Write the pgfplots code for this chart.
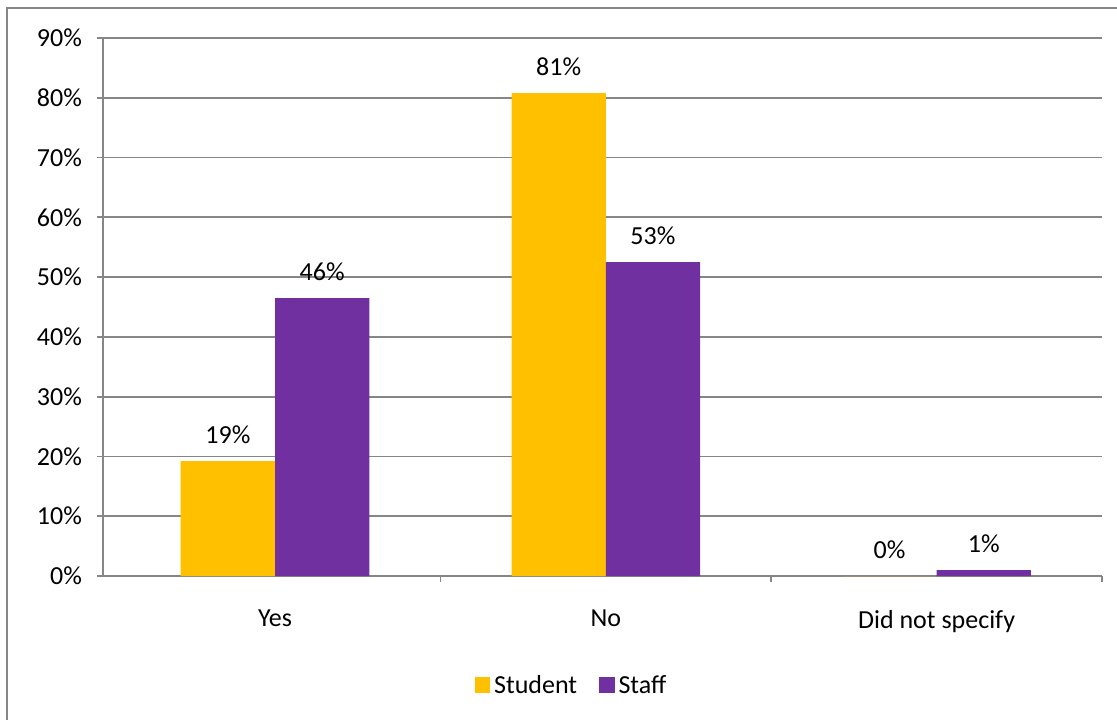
\documentclass[border=0pt]{standalone}
\usepackage{pgfplots}
\pgfplotsset{compat=1.18}
\usepackage{fontspec}
\setmainfont{Carlito}
\definecolor{gold}{HTML}{FFC000}
\definecolor{purp}{HTML}{7030A0}
\definecolor{gridgrey}{HTML}{868686}
\begin{document}
\begin{tikzpicture}
\path[use as bounding box] (0,0) rectangle (558.5pt,359.5pt);
\draw[gridgrey, line width=0.9pt] (3.5pt,-1pt) -- (3.5pt,355.5pt) -- (560pt,355.5pt);
\begin{axis}[
  at={(51.5pt,71.5pt)}, anchor=south west,
  scale only axis, width=499.5pt, height=269pt,
  font=\fontsize{13}{15}\selectfont,
  ymin=0, ymax=90, ytick={0,10,...,90},
  yticklabel={\pgfmathprintnumber{\tick}\%},
  /pgf/number format/assume math mode=true,
  xmin=-0.52, xmax=2.5,
  xtick={0,1,2}, xticklabels={Yes,No,Did not specify},
  minor xtick={0.5,1.5,2.5},
  x tick style={draw=none},
  minor x tick style={draw=gridgrey, line width=0.9pt},
  y tick style={draw=gridgrey, line width=0.9pt},
  tick align=outside, major tick length=3pt, minor tick length=3pt,
  ymajorgrids, grid style={gridgrey, line width=0.9pt},
  axis x line*=bottom, axis y line*=left,
  axis line style={gridgrey, line width=0.9pt},
  xticklabel style={yshift=-10.5pt},
  yticklabel style={xshift=-4pt},
  ybar=0pt, bar width=0.285,
  point meta=explicit symbolic,
  nodes near coords, nodes near coords style={font=\fontsize{13}{15}\selectfont, yshift=5pt},
  legend style={draw=none, at={(axis description cs:0.47,-0.2045)}, anchor=center, legend columns=2, font=\fontsize{13}{15}\selectfont, /tikz/every even column/.append style={column sep=9pt}},
  legend image code/.code={\fill[#1] (0cm,-0.12cm) rectangle (0.27cm,0.15cm);},
]
\addplot[fill=gold, draw=none] coordinates {(0,19.2) [19\%] (1,80.8) [81\%] (2,0) [0\%]};
\addplot[fill=purp, draw=none] coordinates {(0,46.5) [46\%] (1,52.5) [53\%] (2,1.0) [1\%]};
\legend{Student,Staff}
\end{axis}
\end{tikzpicture}
\end{document}
